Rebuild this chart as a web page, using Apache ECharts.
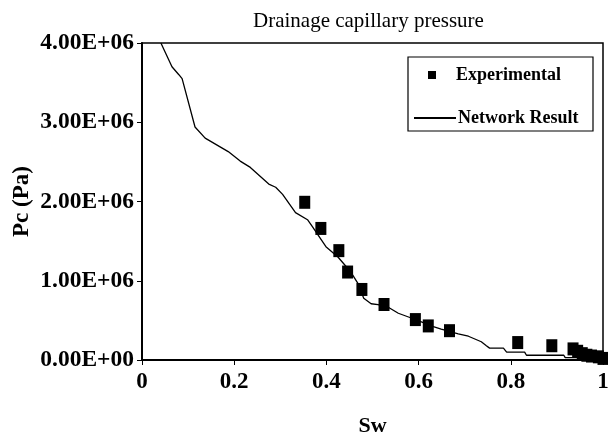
<!DOCTYPE html>
<html>
<head>
<meta charset="utf-8">
<script src="https://cdn.jsdelivr.net/npm/echarts@6/dist/echarts.min.js"></script>
<style>
	html, body { margin: 0; padding: 0; background: #fff; }
	#main { width: 608px; height: 436px; }
</style>
</head>
<body>
<div id="main"></div>
<script>
// Experimental points [Sw, Pc]
const experimental = [
	[0.353, 1.99e6], [0.388, 1.66e6], [0.427, 1.38e6], [0.446, 1.11e6],
	[0.477, 0.89e6], [0.525, 0.70e6], [0.593, 0.51e6], [0.621, 0.43e6],
	[0.667, 0.37e6], [0.815, 0.22e6], [0.889, 0.18e6], [0.935, 0.14e6],
	[0.945, 0.11e6], [0.955, 0.08e6], [0.965, 0.06e6], [0.975, 0.05e6],
	[0.99, 0.04e6], [1.0, 0.02e6]
];

// Network model curve [Sw, Pc]
const network = [
	[0.041, 4.0e6], [0.065, 3.70e6], [0.08, 3.60e6], [0.087, 3.55e6],
	[0.115, 2.94e6], [0.137, 2.80e6], [0.187, 2.63e6], [0.213, 2.51e6],
	[0.235, 2.43e6], [0.275, 2.22e6], [0.290, 2.18e6], [0.305, 2.09e6],
	[0.333, 1.86e6], [0.359, 1.77e6], [0.370, 1.68e6], [0.399, 1.43e6],
	[0.425, 1.30e6], [0.453, 1.11e6], [0.468, 0.97e6], [0.481, 0.78e6],
	[0.497, 0.71e6], [0.512, 0.70e6], [0.536, 0.66e6], [0.556, 0.59e6],
	[0.584, 0.53e6], [0.606, 0.48e6], [0.632, 0.42e6], [0.649, 0.39e6],
	[0.686, 0.33e6], [0.708, 0.30e6], [0.736, 0.23e6], [0.747, 0.18e6],
	[0.754, 0.15e6], [0.784, 0.15e6], [0.791, 0.10e6], [0.830, 0.10e6],
	[0.834, 0.06e6], [0.915, 0.06e6], [0.918, 0.03e6], [0.96, 0.03e6],
	[1.0, 0.0]
];

const xTicks = [0, 0.2, 0.4, 0.6, 0.8, 1];
const yTickFmt = v => (v / 1e6).toFixed(2) + (v === 0 ? "E+00" : "E+06");

const font = "Liberation Serif";
const chart = echarts.init(document.getElementById("main"), null, { renderer: "canvas" });

const option = {
	animation: false,
	title: {
		text: "Drainage capillary pressure",
		left: 248,
		top: 6,
		textStyle: { fontFamily: font, fontWeight: "normal", fontSize: 21, color: "#000" },
	},
	grid: {
		left: 142, right: 5, top: 43, bottom: 76,
		outerBoundsMode: "none",
		show: true, borderColor: "#000", borderWidth: 1.5,
	},
	legend: [
		{
			data: ["Experimental"],
			left: 428, top: 66, padding: 0,
			itemWidth: 8, itemHeight: 8,
			itemStyle: { opacity: 1 },
			textStyle: { fontFamily: font, fontWeight: "bold", fontSize: 18, color: "#000", padding: [0, 0, 0, 15], lineHeight: 18 },
		},
		{
			data: ["Network Result"],
			left: 413, top: 109, padding: 0,
			itemWidth: 42, itemHeight: 14,
			itemStyle: { opacity: 0, borderWidth: 0 },
			textStyle: { fontFamily: font, fontWeight: "bold", fontSize: 18, color: "#000", padding: [0, 0, 0, -3], lineHeight: 18 },
		},
	],
	graphic: [
		{
			type: "rect",
			shape: { x: 408, y: 57, width: 185, height: 74 },
			style: { fill: "none", stroke: "#000", lineWidth: 1.2 },
			z: 100,
		},
	],
	xAxis: {
		type: "value",
		min: 0, max: 1, interval: 0.2,
		name: "Sw",
		nameLocation: "middle",
		nameGap: 55,
		nameTextStyle: { fontFamily: font, fontWeight: "bold", fontSize: 22, color: "#000" },
		axisLine: { lineStyle: { color: "#000", width: 2 } },
		axisTick: { show: true, length: 5, lineStyle: { color: "#000", width: 1 } },
		axisLabel: {
			margin: 11,
			fontFamily: font, fontWeight: "bold", fontSize: 23, color: "#000",
			formatter: v => {
				const t = xTicks.find(x => Math.abs(x - v) < 1e-9);
				return t === undefined ? "" : String(t);
			},
		},
		splitLine: { show: false },
	},
	yAxis: {
		type: "value",
		min: 0, max: 4e6, interval: 1e6,
		name: "Pc (Pa)",
		nameLocation: "middle",
		nameGap: 108,
		nameMoveOverlap: false,
		nameTextStyle: { fontFamily: font, fontWeight: "bold", fontSize: 23, color: "#000" },
		axisLine: { show: true, lineStyle: { color: "#000", width: 2 } },
		axisTick: { show: true, length: 5, lineStyle: { color: "#000", width: 1 } },
		axisLabel: {
			margin: 8,
			fontFamily: font, fontWeight: "bold", fontSize: 23.5, color: "#000",
			formatter: yTickFmt,
		},
		splitLine: { show: false },
	},
	series: [
		{
			name: "Experimental",
			type: "scatter",
			symbol: "rect",
			symbolSize: [11, 13],
			itemStyle: { color: "#000", opacity: 1 },
			data: experimental,
			z: 3,
		},
		{
			name: "Network Result",
			type: "line",
			symbol: "none",
			lineStyle: { color: "#000", width: 1.3 },
			itemStyle: { color: "#000" },
			data: network,
			z: 2,
		},
	],
};

chart.setOption(option);
</script>
</body>
</html>
